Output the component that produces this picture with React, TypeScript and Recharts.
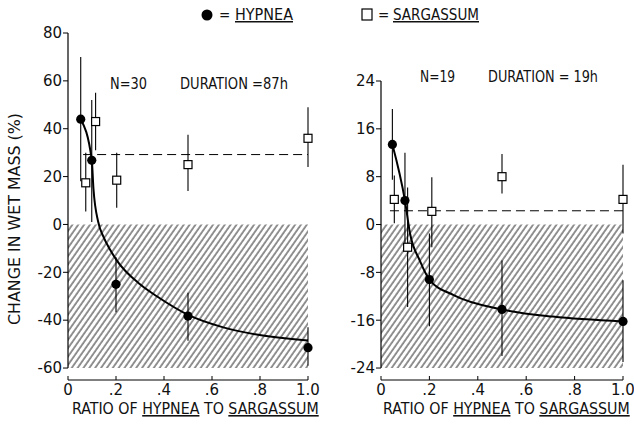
import React from "react";
import {
  ComposedChart,
  XAxis,
  YAxis,
  Scatter,
  Line,
  ErrorBar,
  ReferenceArea,
  ReferenceLine,
} from "recharts";

const FONT = "'DejaVu Sans Condensed','Liberation Sans Narrow','DejaVu Sans',sans-serif";
const NUMFONT = "'DejaVu Sans',sans-serif";

// ---------- Left panel (N=30, 87 h) ----------
const leftHypX = [0.053, 0.099, 0.2, 0.5, 1.0];
const leftHypY = [44, 26.8, -25, -38.3, -51.5];
const leftHypLow = [18, 1, -36.7, -48.6, -59];
const leftHypHigh = [70, 52, -13.7, -28.5, -43];

const leftSarX = [0.074, 0.115, 0.203, 0.5, 1.0];
const leftSarY = [17.4, 43, 18.5, 25, 36];
const leftSarLow = [5.4, 31, 7, 14, 24];
const leftSarHigh = [30, 55, 30, 37.5, 49];

const leftCurveX = [0.053, 0.099, 0.106, 0.126, 0.147, 0.175, 0.203, 0.3, 0.37, 0.505, 0.647, 0.786, 1.0];
const leftCurveY = [44, 27, 15, 1, -5, -10.5, -15, -25, -30, -38, -43, -46, -48.5];

const leftMeanSar = 29.2;
const leftMeanStart = 0.063;
const leftYTicks = [-60, -40, -20, 0, 20, 40, 60, 80];
const leftYDomain = [-65, 80];
const leftYMin = -60;
const leftYMax = 80;

// ---------- Right panel (N=19, 19 h) ----------
const rightHypX = [0.047, 0.099, 0.2, 0.5, 1.0];
const rightHypY = [13.4, 4, -9.2, -14.2, -16.2];
const rightHypLow = [7.5, -4, -17, -22, -23];
const rightHypHigh = [19.3, 12, -1.5, -6, -9.3];

const rightSarX = [0.055, 0.11, 0.21, 0.5, 1.0];
const rightSarY = [4.2, -3.8, 2.2, 8, 4.2];
const rightSarLow = [0.2, -13.8, -3.8, 5.2, -1.5];
const rightSarHigh = [8.2, 6.2, 7.9, 11.8, 10];

const rightCurveX = [0.047, 0.099, 0.12, 0.16, 0.2, 0.3, 0.5, 0.71, 1.0];
const rightCurveY = [13.4, 4, -1.5, -6, -9.2, -11.8, -14.2, -15.4, -16.2];

const rightMeanSar = 2.3;
const rightMeanStart = 0.037;
const rightYTicks = [-24, -16, -8, 0, 8, 16, 24];
const rightYDomain = [-26, 24];
const rightYMin = -24;
const rightYMax = 24;

const xTicks = [0, 0.2, 0.4, 0.6, 0.8, 1.0];
const xTickLabels = ["0", ".2", ".4", ".6", ".8", "1.0"];

const build = (xs: number[], ys: number[], lo?: number[], hi?: number[]) =>
  xs.map((x, i) => ({
    x,
    y: ys[i],
    err: lo && hi ? [ys[i] - lo[i], hi[i] - ys[i]] : undefined,
  }));

const Square = (p: any) => (
  <rect x={p.cx - 4} y={p.cy - 4} width={8} height={8} fill="#fff" stroke="#000" strokeWidth={1.2} />
);
const Dot = (p: any) => <circle cx={p.cx} cy={p.cy} r={4.6} fill="#000" />;

const fmtX = (v: number) => {
  const i = xTicks.indexOf(v);
  return i >= 0 ? xTickLabels[i] : String(v);
};

type PanelProps = {
  id: string;
  width: number;
  marginLeft: number;
  marginRight: number;
  marginTop: number;
  yDomain: number[];
  yTicks: number[];
  yMin: number;
  yMax: number;
  hyp: any[];
  sar: any[];
  curve: any[];
  mean: number;
  meanStart: number;
};

function Panel(p: PanelProps) {
  const tickStyle = { fontFamily: NUMFONT, fontSize: 15, fill: "#111" };
  return (
    <ComposedChart
      width={p.width}
      height={429}
      margin={{ top: p.marginTop, right: p.marginRight, bottom: 0, left: p.marginLeft }}
    >
      <defs>
        <pattern
          id={p.id}
          patternUnits="userSpaceOnUse"
          width={4.8}
          height={4.8}
          patternTransform="rotate(35)"
        >
          <line x1={1} y1={0} x2={1} y2={4.8} stroke="#000" strokeWidth={0.85} />
        </pattern>
      </defs>
      <XAxis
        type="number"
        dataKey="x"
        domain={[0, 1]}
        ticks={xTicks}
        tickFormatter={fmtX}
        height={49}
        tick={tickStyle}
        tickSize={-4}
        tickMargin={8}
        stroke="#000"
        allowDuplicatedCategory={false}
      />
      <YAxis
        type="number"
        dataKey="y"
        domain={p.yDomain}
        ticks={p.yTicks}
        width={40}
        tick={tickStyle}
        tickSize={5}
        tickMargin={1}
        axisLine={false}
        stroke="#000"
        allowDataOverflow
      />
      <ReferenceArea
        x1={0}
        x2={1}
        y1={p.yMin}
        y2={0}
        fill={`url(#${p.id})`}
        fillOpacity={1}
        stroke="none"
      />
      <ReferenceLine
        segment={[
          { x: 0, y: p.yMin },
          { x: 0, y: p.yMax },
        ]}
        stroke="#000"
        strokeWidth={1.2}
      />
      <ReferenceLine
        segment={[
          { x: p.meanStart, y: p.mean },
          { x: 1, y: p.mean },
        ]}
        stroke="#000"
        strokeWidth={1}
        strokeDasharray="9 5"
      />
      <Line
        data={p.curve}
        dataKey="y"
        type="monotone"
        stroke="#000"
        strokeWidth={2}
        dot={false}
        activeDot={false}
        isAnimationActive={false}
      />
      <Scatter data={p.sar} dataKey="y" shape={Square} isAnimationActive={false}>
        <ErrorBar dataKey="err" direction="y" width={0} stroke="#000" strokeWidth={1.1} />
      </Scatter>
      <Scatter data={p.hyp} dataKey="y" shape={Dot} isAnimationActive={false}>
        <ErrorBar dataKey="err" direction="y" width={0} stroke="#000" strokeWidth={1.1} />
      </Scatter>
    </ComposedChart>
  );
}

function XTitle({ x }: { x: number }) {
  return (
    <text x={x} y={414} fontFamily={FONT} fontSize={15.8} fill="#111">
      <tspan>RATIO OF </tspan>
      <tspan textDecoration="underline">HYPNEA</tspan>
      <tspan> TO </tspan>
      <tspan textDecoration="underline">SARGASSUM</tspan>
    </text>
  );
}

const T = (props: any) => (
  <text fontFamily={FONT} fontSize={15} fill="#111" lengthAdjust="spacingAndGlyphs" {...props} />
);

export default function App() {
  return (
    <div style={{ position: "absolute", left: 0, top: 0, width: 634, height: 429, background: "#fff" }}>
      <div style={{ position: "absolute", left: 0, top: 0 }}>
        <Panel
          id="hatchL"
          width={320}
          marginLeft={28}
          marginRight={12}
          marginTop={33}
          yDomain={leftYDomain}
          yTicks={leftYTicks}
          yMin={leftYMin}
          yMax={leftYMax}
          hyp={build(leftHypX, leftHypY, leftHypLow, leftHypHigh)}
          sar={build(leftSarX, leftSarY, leftSarLow, leftSarHigh)}
          curve={build(leftCurveX, leftCurveY)}
          mean={leftMeanSar}
          meanStart={leftMeanStart}
        />
      </div>
      <div style={{ position: "absolute", left: 320, top: 0 }}>
        <Panel
          id="hatchR"
          width={314}
          marginLeft={21}
          marginRight={11}
          marginTop={81}
          yDomain={rightYDomain}
          yTicks={rightYTicks}
          yMin={rightYMin}
          yMax={rightYMax}
          hyp={build(rightHypX, rightHypY, rightHypLow, rightHypHigh)}
          sar={build(rightSarX, rightSarY, rightSarLow, rightSarHigh)}
          curve={build(rightCurveX, rightCurveY)}
          mean={rightMeanSar}
          meanStart={rightMeanStart}
        />
      </div>
      <svg
        width={634}
        height={429}
        style={{ position: "absolute", left: 0, top: 0, pointerEvents: "none" }}
      >
        {/* legend */}
        <circle cx={207} cy={15} r={5.5} fill="#000" />
        <T x={219} y={20}>=</T>
        <T x={235} y={20} textLength={58} textDecoration="underline">HYPNEA</T>
        <rect x={362} y={9} width={10} height={11} fill="#fff" stroke="#000" strokeWidth={1.2} />
        <T x={378} y={20}>=</T>
        <T x={393} y={20} textLength={86} textDecoration="underline">SARGASSUM</T>
        {/* annotations */}
        <T x={110} y={89} textLength={37}>N=30</T>
        <T x={180} y={89} textLength={108}>DURATION =87h</T>
        <T x={420} y={82} textLength={35}>N=19</T>
        <T x={488} y={82} textLength={110}>DURATION = 19h</T>
        {/* axis titles */}
        <text
          x={0}
          y={0}
          transform="translate(20,219) rotate(-90)"
          textAnchor="middle"
          fontFamily={FONT}
          fontSize={15}
          fill="#111"
          textLength={212}
          lengthAdjust="spacingAndGlyphs"
        >
          CHANGE IN WET MASS (%)
        </text>
        <XTitle x={72} />
        <XTitle x={383} />
      </svg>
    </div>
  );
}
